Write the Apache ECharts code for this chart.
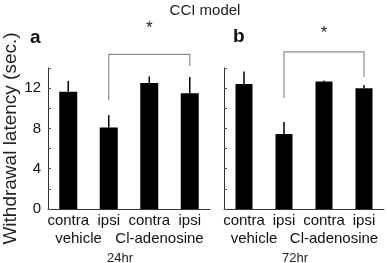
<!DOCTYPE html>
<html>
<head>
<meta charset="utf-8">
<script src="https://cdn.jsdelivr.net/npm/echarts@6/dist/echarts.min.js"></script>
<style>
  html, body { margin: 0; padding: 0; background: #fff; }
  #chart { width: 387px; height: 263px; }
</style>
</head>
<body>
<div id="chart"></div>
<script>
// chart data
const groups = ['contra', 'ipsi', 'contra', 'ipsi'];
const treatments = ['vehicle', 'Cl-adenosine'];
const yTicks = [0, 4, 8, 12];

const mean24 = [11.65, 8.1, 12.5, 11.5];
const sem24 = [1.05, 1.2, 0.65, 1.6];
const mean72 = [12.4, 7.45, 12.65, 12.0];
const sem72 = [1.25, 1.2, 0.1, 0.3];

// [fromIndex, toIndex, topValue, leftEnd, rightEnd, starValue]
const bracket24 = [1, 3, 15.35, 10.8, 14.2, 17.9];
const bracket72 = [1, 3, 15.6, 11.0, 13.1, 17.4];

const FONT = 'Liberation Sans, Arial, sans-serif';
const chart = echarts.init(document.getElementById('chart'));

function errorItem(params, api) {
  const top = api.coord([api.value(0), api.value(2)]);
  const base = api.coord([api.value(0), api.value(1)]);
  return {
    type: 'line',
    shape: { x1: base[0], y1: base[1], x2: top[0], y2: top[1] },
    style: { stroke: '#000', lineWidth: 1.5 }
  };
}

function bracketItem(params, api) {
  const a = api.coord([api.value(0), api.value(2)]);
  const b = api.coord([api.value(1), api.value(2)]);
  const aEnd = api.coord([api.value(0), api.value(3)]);
  const bEnd = api.coord([api.value(1), api.value(4)]);
  const star = api.coord([api.value(0), api.value(5)]);
  return {
    type: 'group',
    children: [
      {
        type: 'polyline',
        shape: { points: [[aEnd[0], aEnd[1]], [a[0], a[1]], [b[0], b[1]], [bEnd[0], bEnd[1]]] },
        style: { stroke: '#8c8c8c', lineWidth: 1.2, fill: null }
      },
      {
        type: 'text',
        style: {
          text: '*', x: (a[0] + b[0]) / 2, y: star[1],
          align: 'center', verticalAlign: 'middle',
          font: '17px ' + FONT, fill: '#222'
        }
      }
    ]
  };
}

function xAxes(gridIndex, name) {
  return [
    {
      type: 'category', gridIndex: gridIndex, data: groups,
      axisLine: { lineStyle: { color: '#333', width: 1 } },
      axisTick: { show: false },
      axisLabel: { interval: 0, hideOverlap: false, color: '#111', fontSize: 15, fontFamily: FONT, margin: 4 }
    },
    {
      type: 'category', gridIndex: gridIndex, data: treatments,
      position: 'bottom', offset: 17,
      axisLine: { show: false }, axisTick: { show: false },
      axisLabel: {
        interval: 0, hideOverlap: false, color: '#111', fontSize: 15, fontFamily: FONT,
        margin: 5, padding: [0, 20, 0, 0]
      },
      name: name, nameLocation: 'middle', nameGap: 26,
      nameTextStyle: { color: '#222', fontSize: 13, fontFamily: FONT, padding: [0, 18, 0, 0] }
    }
  ];
}

function yAxis(gridIndex, showLabels) {
  return {
    type: 'value', gridIndex: gridIndex, min: 0, max: 14, interval: 2,
    name: showLabels ? 'Withdrawal latency (sec.)' : '',
    nameLocation: 'middle', nameGap: 28,
    nameTextStyle: { color: '#222', fontSize: 19, fontFamily: FONT },
    axisLine: { show: true, lineStyle: { color: '#333', width: 1 } },
    axisTick: { show: true, inside: true, length: 3, lineStyle: { color: '#555' } },
    splitLine: { show: false },
    axisLabel: {
      show: showLabels, color: '#111', fontSize: 15, fontFamily: FONT, margin: 7,
      formatter: v => (yTicks.indexOf(v) >= 0 ? String(v) : '')
    }
  };
}

chart.setOption({
  animation: false,
  title: {
    text: 'CCI model', left: 205, top: 3, padding: 0, textAlign: 'center',
    textStyle: { color: '#222', fontSize: 15, fontWeight: 'normal', fontFamily: FONT }
  },
  grid: [
    { left: 48, top: 68, width: 162, height: 141, containLabel: false, outerBoundsMode: 'none' },
    { left: 224, top: 68, width: 160, height: 141, containLabel: false, outerBoundsMode: 'none' }
  ],
  xAxis: [].concat(xAxes(0, '24hr'), xAxes(1, '72hr')),
  yAxis: [yAxis(0, true), yAxis(1, false)],
  graphic: [
    { type: 'text', left: 30, top: 28, style: { text: 'a', font: 'bold 19px ' + FONT, fill: '#111' } },
    { type: 'text', left: 233, top: 27, style: { text: 'b', font: 'bold 19px ' + FONT, fill: '#111' } }
  ],
  series: [
    {
      type: 'bar', xAxisIndex: 0, yAxisIndex: 0, data: mean24,
      barWidth: 18, itemStyle: { color: '#000' }
    },
    {
      type: 'custom', xAxisIndex: 0, yAxisIndex: 0, renderItem: errorItem,
      encode: { x: 0, y: [1, 2] }, z: 3,
      data: mean24.map((m, i) => [i, m, m + sem24[i]])
    },
    {
      type: 'custom', xAxisIndex: 0, yAxisIndex: 0, renderItem: bracketItem,
      encode: { x: [0, 1], y: [2, 3, 4] }, clip: false,
      data: [bracket24]
    },
    {
      type: 'bar', xAxisIndex: 2, yAxisIndex: 1, data: mean72,
      barWidth: 17, itemStyle: { color: '#000' }
    },
    {
      type: 'custom', xAxisIndex: 2, yAxisIndex: 1, renderItem: errorItem,
      encode: { x: 0, y: [1, 2] }, z: 3,
      data: mean72.map((m, i) => [i, m, m + sem72[i]])
    },
    {
      type: 'custom', xAxisIndex: 2, yAxisIndex: 1, renderItem: bracketItem,
      encode: { x: [0, 1], y: [2, 3, 4] }, clip: false,
      data: [bracket72]
    }
  ]
});
</script>
</body>
</html>
